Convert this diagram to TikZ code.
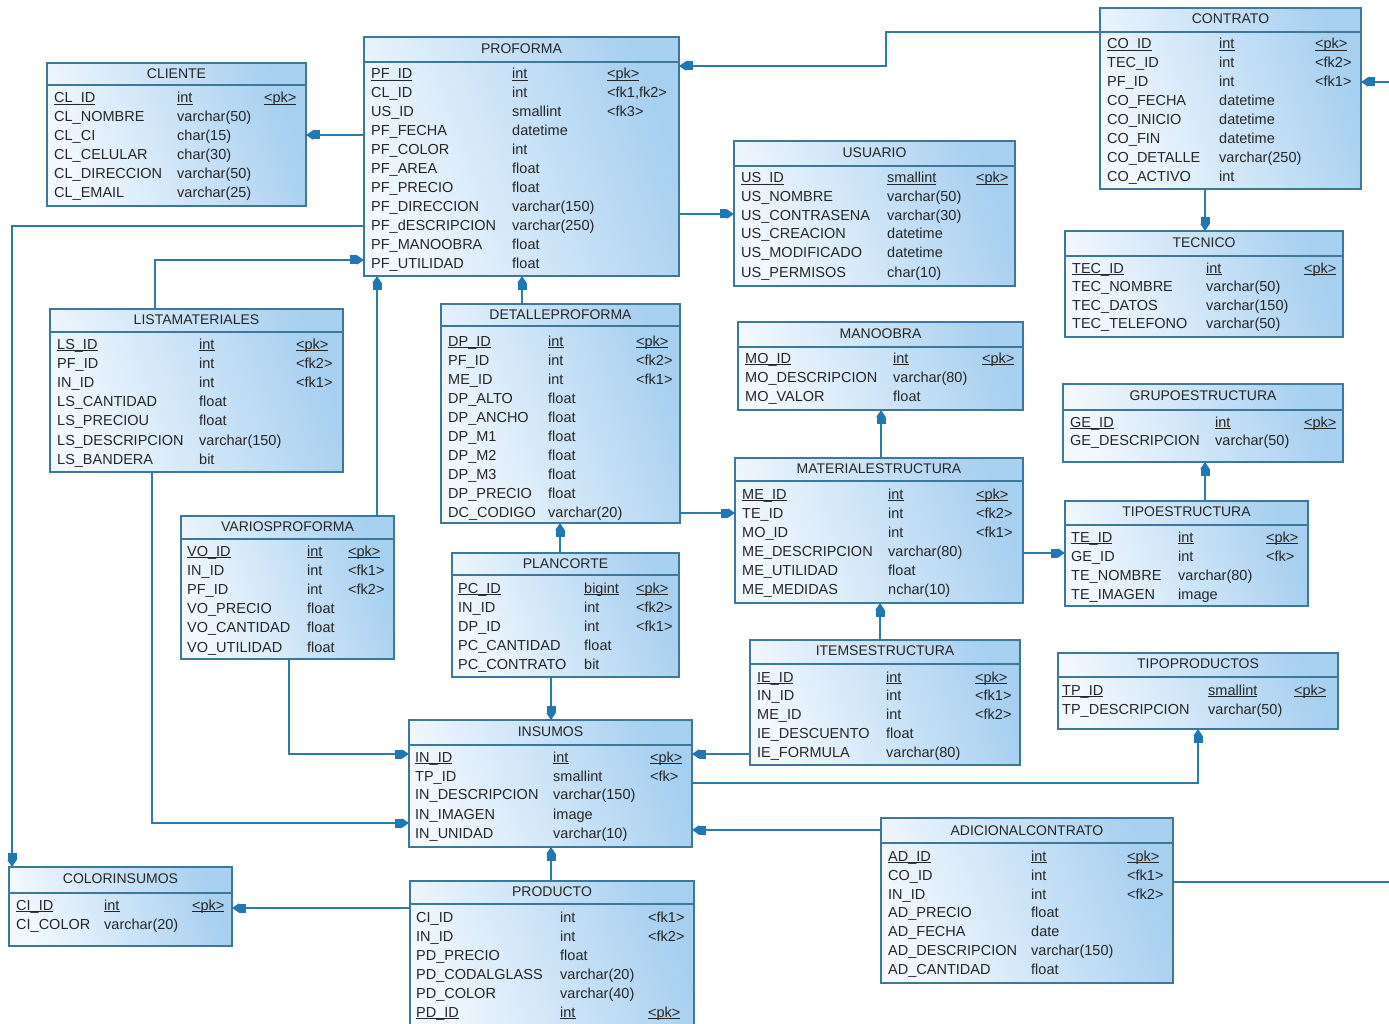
\documentclass[tikz,border=0pt]{standalone}
\usepackage{fontspec}
\setmainfont{Liberation Sans}
\usetikzlibrary{fit,arrows.meta}
\definecolor{bord}{HTML}{3D7799}
\definecolor{boxL}{HTML}{F2F8FE}
\definecolor{boxR}{HTML}{A6CFF0}
\definecolor{lineC}{HTML}{2B7BAB}
\definecolor{arrC}{HTML}{1F78B4}
\definecolor{txt}{HTML}{262626}
\newsavebox\ulbox
\newcommand\ul[1]{\sbox\ulbox{#1}\rlap{\rule[-2.2pt]{\wd\ulbox}{0.8pt}}\usebox\ulbox}
\newcounter{fc}
\newcommand\tb[8]{%
  \node[tbox, fit={(#2,#3) (#4,#5)}] (#1) {};
  \node[ttl] (#1-t) at ({(#2+#4)/2},#6) {#8};
  \draw[sepln] (#1.west |- 0,#7) -- (#1.east |- 0,#7);}
\newcommand\cols[3]{\def\ca{#1}\def\cb{#2}\def\cc{#3}}
\newcommand\f[3]{\stepcounter{fc}%
  \node[fld] (f\arabic{fc}a) at (\ca,#1+5) {#2};
  \node[fld] (f\arabic{fc}b) at (\cb,#1+5) {#3};}
\newcommand\fk[4]{\f{#1}{#2}{#3}%
  \node[fld] (f\arabic{fc}c) at (\cc,#1+5) {#4};}
\newcommand\pk[4]{\stepcounter{fc}%
  \node[fld] (f\arabic{fc}a) at (\ca,#1+5) {\ul{#2}};
  \node[fld] (f\arabic{fc}b) at (\cb,#1+5) {\ul{#3}};
  \node[fld] (f\arabic{fc}c) at (\cc,#1+5) {\ul{#4}};}
\begin{document}
\begin{tikzpicture}[x=1pt,y=-1pt,
  tbox/.style={draw=bord, line width=1.3pt, left color=boxL, right color=boxR, shading angle=110, inner sep=0pt, outer sep=0pt},
  ttl/.style={inner sep=0pt, text=txt, font=\fontsize{14}{16}\selectfont},
  sepln/.style={draw=bord, line width=1.1pt},
  fld/.style={anchor=base west, inner sep=0pt, text=txt, font=\fontsize{14.5}{16}\selectfont},
  fk/.style={draw=lineC, line width=1.5pt, -{Rectangle[length=7pt,width=9pt,sep=0pt,color=arrC]Triangle[length=7pt,width=9pt,color=arrC]}}]
\useasboundingbox (0,0) rectangle (1389,1024);
\clip (0,0) rectangle (1389,1024);
\fill[white] (0,0) rectangle (1389,1024);

% CLIENTE
\tb{cliente}{47}{63}{306}{206}{74}{85}{CLIENTE}
\cols{54}{177}{264}
\pk{98}{CL\_ID}{int}{<pk>}
\f{117}{CL\_NOMBRE}{varchar(50)}
\f{136}{CL\_CI}{char(15)}
\f{155}{CL\_CELULAR}{char(30)}
\f{174}{CL\_DIRECCION}{varchar(50)}
\f{193}{CL\_EMAIL}{varchar(25)}

% PROFORMA
\tb{proforma}{364}{37}{679}{276}{49}{62}{PROFORMA}
\cols{371}{512}{607}
\pk{74}{PF\_ID}{int}{<pk>}
\fk{93}{CL\_ID}{int}{<fk1,fk2>}
\fk{112}{US\_ID}{smallint}{<fk3>}
\f{131}{PF\_FECHA}{datetime}
\f{150}{PF\_COLOR}{int}
\f{169}{PF\_AREA}{float}
\f{188}{PF\_PRECIO}{float}
\f{207}{PF\_DIRECCION}{varchar(150)}
\f{226}{PF\_dESCRIPCION}{varchar(250)}
\f{245}{PF\_MANOOBRA}{float}
\f{264}{PF\_UTILIDAD}{float}

% CONTRATO
\tb{contrato}{1100}{8}{1361}{189}{19}{32}{CONTRATO}
\cols{1107}{1219}{1315}
\pk{44}{CO\_ID}{int}{<pk>}
\fk{63}{TEC\_ID}{int}{<fk2>}
\fk{82}{PF\_ID}{int}{<fk1>}
\f{101}{CO\_FECHA}{datetime}
\f{120}{CO\_INICIO}{datetime}
\f{139}{CO\_FIN}{datetime}
\f{158}{CO\_DETALLE}{varchar(250)}
\f{177}{CO\_ACTIVO}{int}

% USUARIO
\tb{usuario}{734}{141}{1015}{286}{153}{166}{USUARIO}
\cols{741}{887}{976}
\pk{178}{US\_ID}{smallint}{<pk>}
\f{197}{US\_NOMBRE}{varchar(50)}
\f{216}{US\_CONTRASENA}{varchar(30)}
\f{234}{US\_CREACION}{datetime}
\f{253}{US\_MODIFICADO}{datetime}
\f{272}{US\_PERMISOS}{char(10)}

% TECNICO
\tb{tecnico}{1065}{231}{1343}{337}{243}{256}{TECNICO}
\cols{1072}{1206}{1304}
\pk{268}{TEC\_ID}{int}{<pk>}
\f{286}{TEC\_NOMBRE}{varchar(50)}
\f{305}{TEC\_DATOS}{varchar(150)}
\f{323}{TEC\_TELEFONO}{varchar(50)}

% GRUPOESTRUCTURA
\tb{grupo}{1063}{384}{1343}{462}{396}{410}{GRUPOESTRUCTURA}
\cols{1070}{1215}{1304}
\pk{422}{GE\_ID}{int}{<pk>}
\f{440}{GE\_DESCRIPCION}{varchar(50)}

% TIPOESTRUCTURA
\tb{tipoest}{1065}{501}{1308}{606}{512}{525}{TIPOESTRUCTURA}
\cols{1071}{1178}{1266}
\pk{537}{TE\_ID}{int}{<pk>}
\fk{556}{GE\_ID}{int}{<fk>}
\f{575}{TE\_NOMBRE}{varchar(80)}
\f{594}{TE\_IMAGEN}{image}

% MANOOBRA
\tb{manoobra}{738}{322}{1023}{410}{334}{347}{MANOOBRA}
\cols{745}{893}{982}
\pk{358}{MO\_ID}{int}{<pk>}
\f{377}{MO\_DESCRIPCION}{varchar(80)}
\f{396}{MO\_VALOR}{float}

% MATERIALESTRUCTURA
\tb{material}{735}{458}{1023}{603}{469}{481}{MATERIALESTRUCTURA}
\cols{742}{888}{976}
\pk{494}{ME\_ID}{int}{<pk>}
\fk{513}{TE\_ID}{int}{<fk2>}
\fk{532}{MO\_ID}{int}{<fk1>}
\f{551}{ME\_DESCRIPCION}{varchar(80)}
\f{570}{ME\_UTILIDAD}{float}
\f{589}{ME\_MEDIDAS}{nchar(10)}

% DETALLEPROFORMA
\tb{detalle}{441}{304}{680}{523}{315}{326}{DETALLEPROFORMA}
\cols{448}{548}{636}
\pk{341}{DP\_ID}{int}{<pk>}
\fk{360}{PF\_ID}{int}{<fk2>}
\fk{379}{ME\_ID}{int}{<fk1>}
\f{398}{DP\_ALTO}{float}
\f{417}{DP\_ANCHO}{float}
\f{436}{DP\_M1}{float}
\f{455}{DP\_M2}{float}
\f{474}{DP\_M3}{float}
\f{493}{DP\_PRECIO}{float}
\f{512}{DC\_CODIGO}{varchar(20)}

% LISTAMATERIALES
\tb{lista}{50}{309}{343}{472}{320}{332}{LISTAMATERIALES}
\cols{57}{199}{296}
\pk{344}{LS\_ID}{int}{<pk>}
\fk{363}{PF\_ID}{int}{<fk2>}
\fk{382}{IN\_ID}{int}{<fk1>}
\f{401}{LS\_CANTIDAD}{float}
\f{420}{LS\_PRECIOU}{float}
\f{440}{LS\_DESCRIPCION}{varchar(150)}
\f{459}{LS\_BANDERA}{bit}

% VARIOSPROFORMA
\tb{varios}{181}{516}{394}{659}{527}{539}{VARIOSPROFORMA}
\cols{187}{307}{348}
\pk{551}{VO\_ID}{int}{<pk>}
\fk{570}{IN\_ID}{int}{<fk1>}
\fk{589}{PF\_ID}{int}{<fk2>}
\f{608}{VO\_PRECIO}{float}
\f{627}{VO\_CANTIDAD}{float}
\f{647}{VO\_UTILIDAD}{float}

% PLANCORTE
\tb{plancorte}{452}{553}{679}{677}{564}{575}{PLANCORTE}
\cols{458}{584}{636}
\pk{588}{PC\_ID}{bigint}{<pk>}
\fk{607}{IN\_ID}{int}{<fk2>}
\fk{626}{DP\_ID}{int}{<fk1>}
\f{645}{PC\_CANTIDAD}{float}
\f{664}{PC\_CONTRATO}{bit}

% ITEMSESTRUCTURA
\tb{items}{750}{640}{1020}{765}{651}{664}{ITEMSESTRUCTURA}
\cols{757}{886}{975}
\pk{677}{IE\_ID}{int}{<pk>}
\fk{695}{IN\_ID}{int}{<fk1>}
\fk{714}{ME\_ID}{int}{<fk2>}
\f{733}{IE\_DESCUENTO}{float}
\f{752}{IE\_FORMULA}{varchar(80)}

% TIPOPRODUCTOS
\tb{tipoprod}{1058}{653}{1338}{729}{664}{677}{TIPOPRODUCTOS}
\cols{1062}{1208}{1294}
\pk{690}{TP\_ID}{smallint}{<pk>}
\f{709}{TP\_DESCRIPCION}{varchar(50)}

% INSUMOS
\tb{insumos}{409}{720}{692}{847}{732}{745}{INSUMOS}
\cols{415}{553}{650}
\pk{757}{IN\_ID}{int}{<pk>}
\fk{776}{TP\_ID}{smallint}{<fk>}
\f{794}{IN\_DESCRIPCION}{varchar(150)}
\f{814}{IN\_IMAGEN}{image}
\f{833}{IN\_UNIDAD}{varchar(10)}

% ADICIONALCONTRATO
\tb{adicional}{881}{818}{1173}{983}{831}{843}{ADICIONALCONTRATO}
\cols{888}{1031}{1127}
\pk{856}{AD\_ID}{int}{<pk>}
\fk{875}{CO\_ID}{int}{<fk1>}
\fk{894}{IN\_ID}{int}{<fk2>}
\f{912}{AD\_PRECIO}{float}
\f{931}{AD\_FECHA}{date}
\f{950}{AD\_DESCRIPCION}{varchar(150)}
\f{969}{AD\_CANTIDAD}{float}

% COLORINSUMOS
\tb{colorins}{9}{867}{232}{946}{879}{893}{COLORINSUMOS}
\cols{16}{104}{192}
\pk{905}{CI\_ID}{int}{<pk>}
\f{924}{CI\_COLOR}{varchar(20)}

% PRODUCTO
\tb{producto}{410}{881}{694}{1040}{892}{904}{PRODUCTO}
\cols{416}{560}{648}
\fk{917}{CI\_ID}{int}{<fk1>}
\fk{936}{IN\_ID}{int}{<fk2>}
\f{955}{PD\_PRECIO}{float}
\f{974}{PD\_CODALGLASS}{varchar(20)}
\f{993}{PD\_COLOR}{varchar(40)}
\pk{1012}{PD\_ID}{int}{<pk>}

% connectors
\draw[fk] (contrato.west |- 0,32) -- (886,32) |- (proforma.east |- 0,66);
\draw[fk] (contrato.south -| 1205,0) -- (tecnico.north -| 1205,0);
\draw[fk] (adicional.east |- 0,882) -- (1420,882) -- (1420,82) -- (contrato.east |- 0,82);
\draw[fk] (proforma.west |- 0,135) -- (cliente.east |- 0,135);
\draw[fk] (proforma.east |- 0,214) -- (usuario.west |- 0,214);
\draw[fk] (proforma.west |- 0,226) -- (12,226) -- (colorins.north -| 12,0);
\draw[fk] (lista.north -| 155,0) |- (proforma.west |- 0,260);
\draw[fk] (lista.south -| 152,0) |- (insumos.west |- 0,823);
\draw[fk] (varios.north -| 377,0) -- (proforma.south -| 377,0);
\draw[fk] (varios.south -| 289,0) |- (insumos.west |- 0,754);
\draw[fk] (detalle.north -| 522,0) -- (proforma.south -| 522,0);
\draw[fk] (detalle.east |- 0,513) -- (material.west |- 0,513);
\draw[fk] (plancorte.north -| 560,0) -- (detalle.south -| 560,0);
\draw[fk] (plancorte.south -| 551,0) -- (insumos.north -| 551,0);
\draw[fk] (material.north -| 881,0) -- (manoobra.south -| 881,0);
\draw[fk] (material.east |- 0,553) -- (tipoest.west |- 0,553);
\draw[fk] (tipoest.north -| 1205,0) -- (grupo.south -| 1205,0);
\draw[fk] (items.north -| 880,0) -- (material.south -| 880,0);
\draw[fk] (items.west |- 0,754) -- (insumos.east |- 0,754);
\draw[fk] (insumos.east |- 0,783) -| (tipoprod.south -| 1198,0);
\draw[fk] (adicional.west |- 0,830) -- (insumos.east |- 0,830);
\draw[fk] (producto.north -| 551,0) -- (insumos.south -| 551,0);
\draw[fk] (producto.west |- 0,908) -- (colorins.east |- 0,908);
\end{tikzpicture}
\end{document}
